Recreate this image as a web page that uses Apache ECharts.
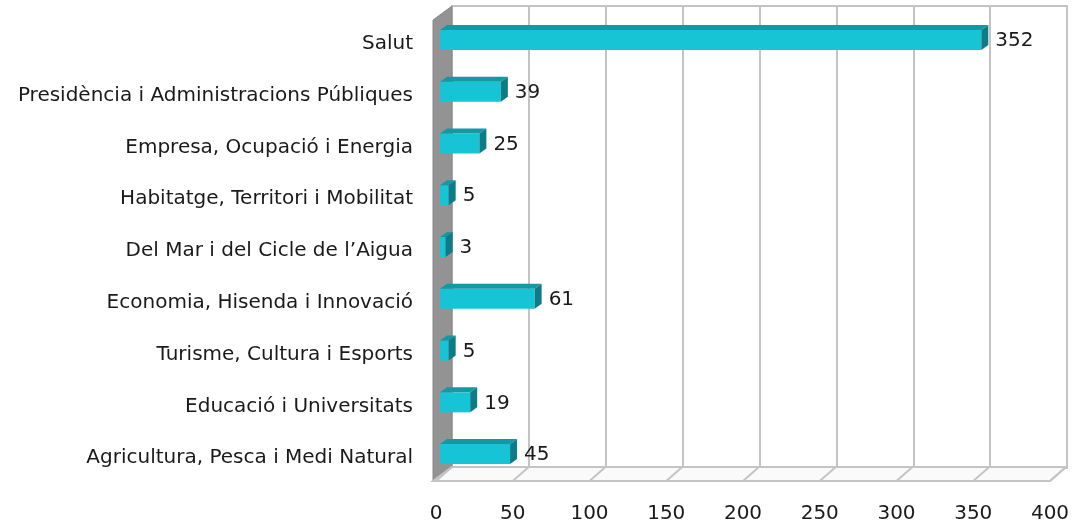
<!DOCTYPE html>
<html>
<head>
<meta charset="utf-8">
<script src="https://cdn.jsdelivr.net/npm/echarts@6/dist/echarts.min.js"></script>
<style>
  html, body { margin: 0; padding: 0; background: #fff; }
  #chart { width: 1078px; height: 526px; }
</style>
</head>
<body>
<div id="chart"></div>
<script>
// dades
var categories = [
  'Salut',
  'Presidència i Administracions Públiques',
  'Empresa, Ocupació i Energia',
  'Habitatge, Territori i Mobilitat',
  'Del Mar i del Cicle de l\u2019Aigua',
  'Economia, Hisenda i Innovació',
  'Turisme, Cultura i Esports',
  'Educació i Universitats',
  'Agricultura, Pesca i Medi Natural'
];
var values = [352, 39, 25, 5, 3, 61, 5, 19, 45];
var xTicks = [0, 50, 100, 150, 200, 250, 300, 350, 400];

var FONT = 'DejaVu Sans';
var DX = 16, DY = -13;   // desplaçament de profunditat (pla del fons)
var LIFT = 4;            // les barres queden una mica per sobre de les etiquetes

var myChart = echarts.init(document.getElementById('chart'));

// parets: terra + paret esquerra
function renderWalls(params, api) {
  var band = api.size([0, 1])[1];
  var bottom = api.coord([0, categories.length - 1])[1] + band / 2 - LIFT;
  var top = api.coord([0, 0])[1] - band / 2 - LIFT;
  var x0 = api.coord([0, 0])[0];
  var x1 = api.coord([xTicks[xTicks.length - 1], 0])[0];
  var children = [];
  // paret esquerra
  children.push({
    type: 'polygon',
    shape: { points: [[x0 - 3, bottom + 1], [x0 - 3, top + 6], [x0 + DX, top + 6 + DY - 1], [x0 + DX, bottom + DY]] },
    style: { fill: '#939393', stroke: '#888', lineWidth: 1 }
  });
  // terra
  children.push({
    type: 'polygon',
    shape: { points: [[x0 - 3, bottom + 1], [x1, bottom + 1], [x1 + DX, bottom + DY], [x0 + DX, bottom + DY]] },
    style: { fill: '#fafafa', stroke: '#c4c4c4', lineWidth: 2 }
  });
  xTicks.forEach(function (t) {
    var x = api.coord([t, 0])[0];
    children.push({
      type: 'line',
      shape: { x1: x, y1: bottom + 1, x2: x + DX, y2: bottom + DY },
      style: { stroke: '#c4c4c4', lineWidth: 2 }
    });
  });
  return { type: 'group', children: children };
}

// barres 3D (a mitja profunditat)
function renderBar(params, api) {
  var idx = api.value(0);
  var val = api.value(1);
  var p0 = api.coord([0, idx]);
  var p1 = api.coord([val, idx]);
  var c = p0[1] - LIFT;
  var shift = 5;
  var xa = p0[0] + 4, xb = p1[0] + shift;
  var h = 10, dx = 7, dy = 5;
  return {
    type: 'group',
    children: [
      {
        type: 'rect',
        shape: { x: xa, y: c - h, width: xb - xa, height: 2 * h },
        style: { fill: '#17c4d5' }
      },
      {
        type: 'polygon',
        shape: { points: [[xa, c - h], [xa + dx, c - h - dy], [xb + dx, c - h - dy], [xb, c - h]] },
        style: { fill: '#1399a4' }
      },
      {
        type: 'polygon',
        shape: { points: [[xb, c - h], [xb + dx, c - h - dy], [xb + dx, c + h - dy], [xb, c + h]] },
        style: { fill: '#0e7c86' }
      },
      {
        type: 'text',
        style: {
          x: xb + 14, y: c + 1, text: String(val),
          fill: '#1a1a1a', font: '20px "' + FONT + '"',
          verticalAlign: 'middle'
        }
      }
    ]
  };
}

var option = {
  animation: false,
  grid: [
    { left: 452, right: 11, top: 6, bottom: 58, show: true, borderColor: '#c4c4c4', borderWidth: 2, backgroundColor: '#fff' },
    { left: 436, right: 28, top: 14 + LIFT, bottom: 46 - LIFT }
  ],
  xAxis: [
    {
      gridIndex: 0, type: 'value', min: 0, max: 400, interval: 50,
      axisLabel: { show: false }, axisLine: { show: false }, axisTick: { show: false },
      splitLine: { lineStyle: { color: '#c4c4c4', width: 2 } }
    },
    {
      gridIndex: 1, type: 'value', min: 0, max: 400, interval: 50,
      axisLabel: { color: '#1a1a1a', fontSize: 20, fontFamily: FONT, margin: 24 - LIFT },
      axisLine: { show: false }, axisTick: { show: false }, splitLine: { show: false }
    }
  ],
  yAxis: [
    { gridIndex: 0, type: 'category', data: categories, inverse: true, show: false },
    {
      gridIndex: 1, type: 'category', data: categories, inverse: true,
      axisLine: { show: false }, axisTick: { show: false },
      axisLabel: { color: '#1a1a1a', fontSize: 20, fontFamily: FONT, margin: 23 }
    }
  ],
  series: [
    {
      type: 'custom', xAxisIndex: 1, yAxisIndex: 1, z: 1,
      data: [[0, 0]], renderItem: renderWalls, silent: true
    },
    {
      type: 'custom', xAxisIndex: 1, yAxisIndex: 1, z: 5,
      data: values.map(function (v, i) { return [i, v]; }),
      encode: { x: 1, y: 0 },
      renderItem: renderBar
    }
  ]
};

myChart.setOption(option);
window.addEventListener('resize', function () {
  myChart.resize();
});
</script>
</body>
</html>
